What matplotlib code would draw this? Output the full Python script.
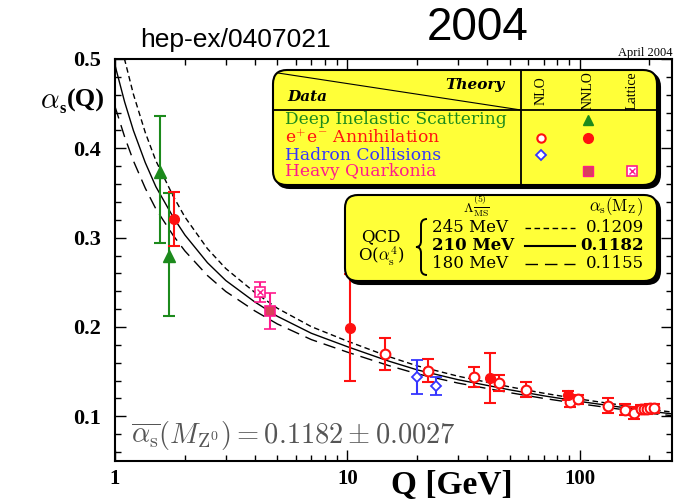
import matplotlib
matplotlib.use('Agg')
import matplotlib.pyplot as plt
from matplotlib.patches import FancyBboxPatch, PathPatch
from matplotlib.path import Path
from matplotlib.ticker import FixedLocator, NullFormatter, LogLocator

plt.rcParams['mathtext.fontset'] = 'cm'

# ---------------- data ----------------
# theory curves (Lambda_MSbar^(5) = 245 / 210 / 180 MeV)
curve_q = [1.0, 1.1, 1.2, 1.35, 1.5, 1.78, 2.0, 2.5, 3.0, 4.0, 5.0, 7.0,
           10, 15, 20, 30, 50, 70, 100, 150, 200, 250]
curve_245 = [0.550, 0.4995, 0.4606, 0.4177, 0.386, 0.3465, 0.3231, 0.2877,
             0.2654, 0.2387, 0.221, 0.2004, 0.1842, 0.1671, 0.1565, 0.1449,
             0.1330, 0.1259, 0.1193, 0.1127, 0.1078, 0.1048]
curve_210 = [0.493, 0.452, 0.420, 0.384, 0.357, 0.323, 0.303, 0.272, 0.252,
             0.228, 0.212, 0.193, 0.178, 0.162, 0.152, 0.141, 0.1297, 0.1230,
             0.1167, 0.1103, 0.1057, 0.1028]
curve_180 = [0.4468, 0.4129, 0.386, 0.3554, 0.3321, 0.3025, 0.2851, 0.2576,
             0.2397, 0.218, 0.2034, 0.1859, 0.1719, 0.157, 0.1476, 0.1372,
             0.1265, 0.1201, 0.1141, 0.1079, 0.1035, 0.1007]

# Deep inelastic scattering (NNLO)
dis_q = [1.56, 1.71]
dis_a = [0.373, 0.280]
dis_lo = [0.079, 0.068]
dis_hi = [0.063, 0.070]

# e+e- annihilation (NNLO, filled)
ee_nnlo_q = [1.80, 10.3, 41.1, 89.5]
ee_nnlo_a = [0.321, 0.199, 0.143, 0.1235]
ee_nnlo_err = [0.030, 0.060, 0.028, 0.005]

# e+e- annihilation (NLO, open)
ee_nlo_q = [14.6, 22.2, 35.2, 45.1, 59.0, 91.2, 98, 132, 157, 171,
            183, 189, 196, 202, 210]
ee_nlo_a = [0.170, 0.151, 0.144, 0.137, 0.130, 0.1155, 0.119, 0.112, 0.1075,
            0.104, 0.108, 0.108, 0.108, 0.109, 0.109]
ee_nlo_err = [0.018, 0.013, 0.011, 0.009, 0.008, 0.005, 0.005, 0.008, 0.006,
              0.007, 0.005, 0.005, 0.005, 0.005, 0.005]

# Hadron collisions (NLO)
had_q = [19.9, 24.1]
had_a = [0.144, 0.134]
had_err = [0.019, 0.010]

# Heavy quarkonia
hq_nnlo_q = [4.67]
hq_nnlo_a = [0.218]
hq_nnlo_err = [0.020]
hq_lat_q = [4.23]
hq_lat_a = [0.239]
hq_lat_err = [0.011]

# ---------------- colours ----------------
GREEN = '#1c8a1c'
RED = '#ff1010'
BLUE = '#3535ff'
PINK = '#ff1a8c'
PINKFILL = '#d8405a'
YELLOW = '#ffff38'

fig = plt.figure(figsize=(6.74, 5.0), dpi=100)
ax = fig.add_axes([115/674, 39/500, 557/674, 402/500])
ax.set_xscale('log')
ax.set_xlim(1, 250)
ax.set_ylim(0.05, 0.5)

# theory curves
ax.plot(curve_q, curve_245, color='black', lw=1.0, ls=(0, (4, 2.5)), zorder=2)
ax.plot(curve_q, curve_210, color='black', lw=1.0, ls='-', zorder=2)
ax.plot(curve_q, curve_180, color='black', lw=1.0, ls=(0, (9, 5)), zorder=2)

eb = dict(capsize=4, elinewidth=1.5, capthick=1.5, ls='none', zorder=4)
ax.errorbar(dis_q, dis_a, yerr=[dis_lo, dis_hi], fmt='^', color=GREEN,
            ms=8, **eb)
ax.errorbar(ee_nlo_q, ee_nlo_a, yerr=ee_nlo_err, fmt='o', color=RED,
            mfc='white', mec=RED, mew=1.5, ms=7, **eb)
ax.errorbar(ee_nnlo_q, ee_nnlo_a, yerr=ee_nnlo_err, fmt='o', color=RED,
            ms=7, **eb)
ax.errorbar(had_q, had_a, yerr=had_err, fmt='D', color=BLUE, mfc='white',
            mec=BLUE, mew=1.3, ms=5, **eb)
ax.errorbar(hq_nnlo_q, hq_nnlo_a, yerr=hq_nnlo_err, fmt='s', color=PINK,
            mfc=PINKFILL, mec=PINK, mew=1.2, ms=7, **eb)
ax.errorbar(hq_lat_q, hq_lat_a, yerr=hq_lat_err, fmt='s', color=PINK,
            mfc='white', mec=PINK, mew=1.2, ms=7, **eb)
ax.plot(hq_lat_q, hq_lat_a, marker='x', color=PINK, ms=4, mew=1.0,
        ls='none', zorder=5)

# axes styling
for s in ax.spines.values():
    s.set_linewidth(1.5)
ax.yaxis.set_major_locator(FixedLocator([0.1, 0.2, 0.3, 0.4, 0.5]))
ax.yaxis.set_minor_locator(FixedLocator([0.06 + 0.02 * i for i in range(23)]))
ax.set_yticklabels(['0.1', '0.2', '0.3', '0.4', '0.5'])
ax.xaxis.set_major_locator(FixedLocator([1, 10, 100]))
ax.xaxis.set_minor_locator(LogLocator(base=10, subs=range(2, 10)))
ax.xaxis.set_minor_formatter(NullFormatter())
ax.set_xticklabels(['1', '10', '100'])
ax.tick_params(which='both', direction='in', top=True, right=True, width=1.0)
ax.tick_params(which='major', length=8)
ax.tick_params(which='minor', length=4)
ax.tick_params(axis='y', which='major', pad=10)
ax.tick_params(axis='x', which='major', pad=6)
for lab in ax.get_yticklabels():
    lab.set_fontfamily('Liberation Serif')
    lab.set_fontweight('bold')
    lab.set_fontsize(16)
for lab in ax.get_xticklabels():
    lab.set_fontfamily('Liberation Serif')
    lab.set_fontweight('bold')
    lab.set_fontsize(15)

# average formula
ax.text((131 - 115) / 557, 1 - (435 - 59) / 402,
        r'$\overline{\alpha_{\rm s}}(M_{\rm Z^0}) = 0.1182 \pm 0.0027$',
        transform=ax.transAxes, fontsize=20.5, color='#555555',
        va='center', ha='left')

# ---------------- overlay in pixel coordinates ----------------
ov = fig.add_axes([0, 0, 1, 1], zorder=10)
ov.set_xlim(0, 674)
ov.set_ylim(500, 0)
ov.axis('off')
ov.patch.set_alpha(0)

SERIF = 'DejaVu Serif'

def rbox(x0, y0, x1, y1, r):
    sh = FancyBboxPatch((x0 + 3, y0 + 3), x1 - x0, y1 - y0,
                        boxstyle=f'round,pad=0,rounding_size={r}',
                        fc='black', ec='black', lw=1.5)
    ov.add_patch(sh)
    bx = FancyBboxPatch((x0, y0), x1 - x0, y1 - y0,
                        boxstyle=f'round,pad=0,rounding_size={r}',
                        fc=YELLOW, ec='black', lw=1.5)
    ov.add_patch(bx)

# legend box 1
rbox(273, 70, 657, 185, 14)
ov.plot([521, 521], [70, 185], color='black', lw=1.3)
ov.plot([273, 657], [110, 110], color='black', lw=1.3)
ov.plot([278, 521], [73, 110], color='black', lw=0.8)
ov.text(505, 85, 'Theory', fontfamily=SERIF, fontweight='bold', fontstyle='italic',
        fontsize=11, ha='right', va='center')
ov.text(287, 97, 'Data', fontfamily=SERIF, fontweight='bold', fontstyle='italic',
        fontsize=11, ha='left', va='center')
for xc, lab in [(541, 'NLO'), (588, 'NNLO'), (632, 'Lattice')]:
    ov.text(xc, 91, lab, fontfamily='Liberation Serif', fontsize=10, rotation=90,
            ha='center', va='center')
rows = [(120, 'Deep Inelastic Scattering', GREEN),
        (138, r'e$^{+}$e$^{-}$ Annihilation', RED),
        (155, 'Hadron Collisions', BLUE),
        (171, 'Heavy Quarkonia', PINK)]
for yy, lab, col in rows:
    ov.text(285, yy, lab, fontfamily=SERIF, fontsize=12.3, color=col,
            ha='left', va='center')
ov.plot([588], [120], marker='^', color=GREEN, ms=7, ls='none')
ov.plot([541], [138], marker='o', mfc='white', mec=RED, mew=1.5, ms=6, ls='none')
ov.plot([588], [138], marker='o', color=RED, ms=7, ls='none')
ov.plot([541], [155], marker='D', mfc='white', mec=BLUE, mew=1.3, ms=5, ls='none')
ov.plot([588], [171], marker='s', mfc=PINKFILL, mec=PINK, ms=7, ls='none')
ov.plot([632], [171], marker='s', mfc='white', mec=PINK, mew=1.2, ms=7, ls='none')
ov.plot([632], [171], marker='x', color=PINK, mew=1.0, ms=4, ls='none')

# legend box 2
rbox(345, 195, 657, 281, 13)
ov.text(476, 206, r'$\Lambda^{(5)}_{\overline{\rm MS}}$', fontsize=10,
        ha='center', va='center')
ov.text(643, 207, r'$\alpha_{\rm s}({\rm M_Z})$', fontsize=12, ha='right', va='center')
ov.text(381, 237, 'QCD', fontfamily=SERIF, fontsize=12, ha='center', va='center')
ov.text(381, 256, r'O($\alpha_{\rm s}^4$)', fontfamily=SERIF, fontsize=12,
        ha='center', va='center')
# curly brace
bx0, btop, bbot, bmid = 421, 219, 275, 247
brace = Path([(bx0 + 6, btop), (bx0, btop), (bx0, btop + 6),
              (bx0, bmid - 6), (bx0, bmid), (bx0 - 5, bmid),
              (bx0, bmid), (bx0, bmid + 6),
              (bx0, bbot - 6), (bx0, bbot), (bx0 + 6, bbot)],
             [Path.MOVETO, Path.CURVE3, Path.CURVE3,
              Path.LINETO, Path.CURVE3, Path.CURVE3,
              Path.CURVE3, Path.CURVE3,
              Path.LINETO, Path.CURVE3, Path.CURVE3])
ov.add_patch(PathPatch(brace, fc='none', ec='black', lw=1.4))
lines2 = [(228, '245 MeV', '0.1209', (0, (4, 2.5)), 'normal'),
          (246, '210 MeV', '0.1182', '-', 'bold'),
          (264, '180 MeV', '0.1155', (0, (9, 5)), 'normal')]
for yy, lam, asv, lst, fw in lines2:
    ov.text(432, yy, lam, fontfamily=SERIF, fontsize=12, fontweight=fw,
            ha='left', va='center')
    ov.text(644, yy, asv, fontfamily=SERIF, fontsize=12, fontweight=fw,
            ha='right', va='center')
    ov.plot([525, 575], [yy, yy], color='black', lw=1.5 if fw == 'bold' else 1.0, ls=lst)

# headers and labels
ov.text(235, 40, 'hep-ex/0407021', fontfamily='Liberation Sans', fontsize=19,
        ha='center', va='center')
ov.text(478, 28, '2004', fontfamily='Liberation Sans', fontsize=33,
        ha='center', va='center')
ov.text(673, 56, 'April 2004', fontfamily='Liberation Serif', fontsize=9,
        ha='right', va='baseline')
ov.text(40, 100, r'$\alpha$', fontsize=21, ha='left', va='center')
ov.text(59, 109, 's', fontfamily='Liberation Serif', fontweight='bold', fontsize=12,
        ha='left', va='center')
ov.text(67, 100, '(Q)', fontfamily='Liberation Serif', fontweight='bold', fontsize=19,
        ha='left', va='center')
ov.text(452, 494, 'Q [GeV]', fontfamily='Liberation Serif', fontweight='bold',
        fontsize=24, ha='center', va='baseline')

fig.savefig('out.png', dpi=100)
